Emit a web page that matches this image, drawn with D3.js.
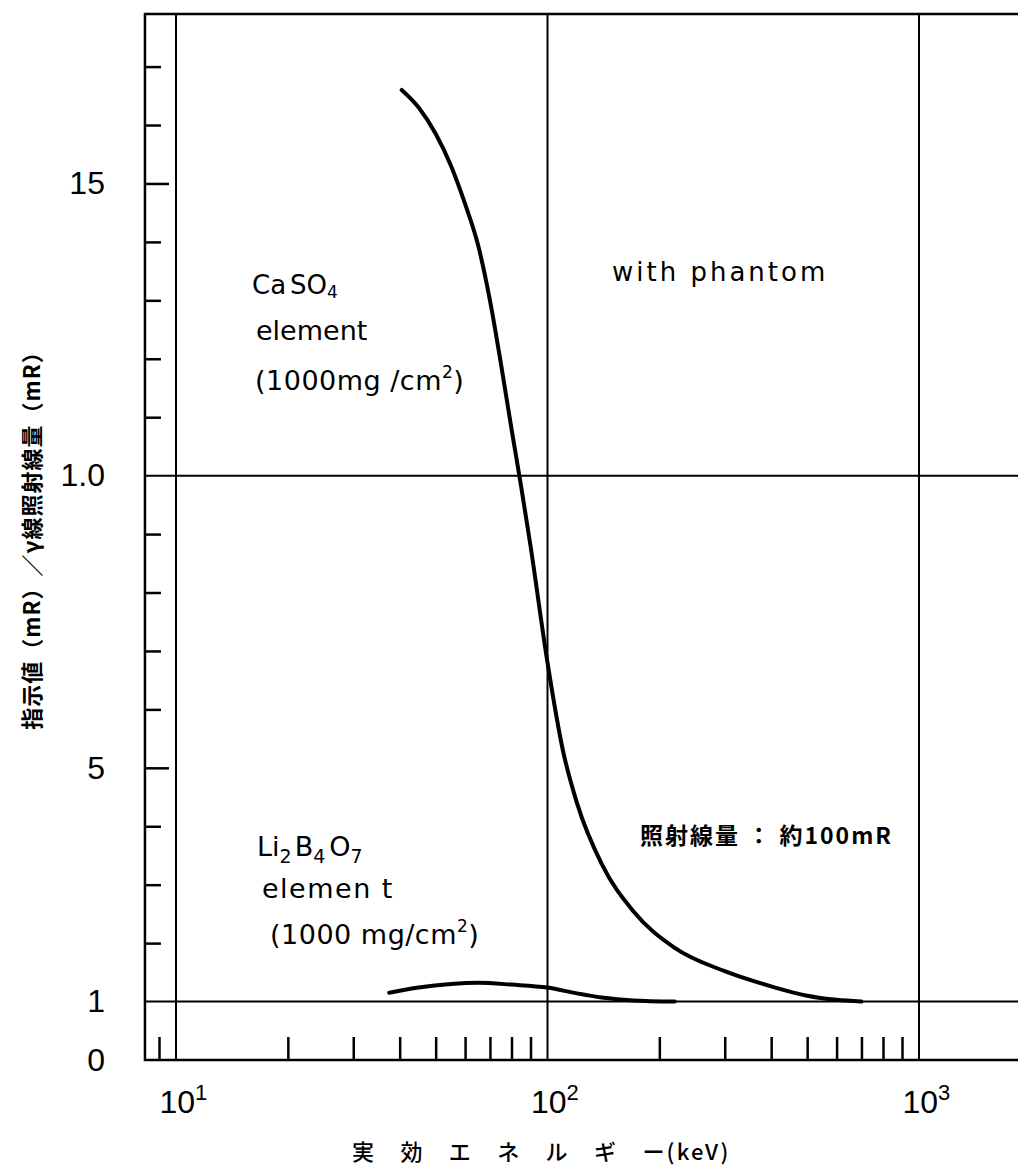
<!DOCTYPE html>
<html>
<head>
<meta charset="utf-8">
<script src="https://cdn.jsdelivr.net/npm/d3@7"></script>
<style>
  body { margin: 0; background: #fff; }
  text { fill: #000; }
</style>
</head>
<body>
<div class="container"></div>
<script>
// effective energy (keV) and reading / gamma exposure for each element
var casoEnergy = [40.5, 45, 50, 55, 60, 65, 70, 75, 80, 85, 90, 100, 110, 120, 140, 170, 220, 300, 400, 500, 600, 700];
var casoRatio  = [16.6, 16.3, 15.85, 15.3, 14.65, 13.95, 13.0, 11.9, 10.8, 9.8, 8.8, 6.8, 5.3, 4.4, 3.35, 2.55, 1.92, 1.52, 1.26, 1.1, 1.03, 1.0];

var liEnergy = [37.5, 45, 55, 65, 80, 100, 120, 140, 170, 220];
var liRatio  = [1.15, 1.24, 1.30, 1.32, 1.29, 1.24, 1.14, 1.07, 1.02, 1.0];

var yMinorTicks = [2, 3, 4, 6, 7, 8, 9, 11, 12, 13, 14, 16, 17];
var yMajorTicks = [5, 15];
var yLabelTicks = [0, 1, 5, 10, 15];
var yLabelText  = {0: '0', 1: '1', 5: '5', 10: '1.0', 15: '15'};
var yGrid = [1, 10];

var xMinorTicks = [9, 20, 30, 40, 50, 60, 70, 80, 90, 200, 300, 400, 500, 600, 700, 800, 900];
var xDecades = [10, 100, 1000];
var xExponent = {10: '1', 100: '2', 1000: '3'};

var width = 1018, height = 1176;

var svg = d3.select('.container').append('svg')
	.attr('width', width).attr('height', height);

var x = d3.scaleLog().domain([10, 1000]).range([176, 919]);
var y = d3.scaleLinear().domain([0, 17.9]).range([1060, 14]);

var xLeft = x(8.25), xRight = x(2300);

// frame
svg.append('path')
	.attr('d', 'M' + xRight + ',' + y(17.9) + 'H' + xLeft + 'V' + y(0) + 'H' + xRight)
	.attr('fill', 'none').attr('stroke', '#000').attr('stroke-width', 2.5);

// grid lines
svg.selectAll('.hgrid').data(yGrid).enter().append('line')
	.attr('x1', xLeft).attr('x2', xRight)
	.attr('y1', function(d){ return y(d); }).attr('y2', function(d){ return y(d); })
	.attr('stroke', '#000').attr('stroke-width', 2);

svg.selectAll('.vgrid').data(xDecades).enter().append('line')
	.attr('x1', function(d){ return x(d); }).attr('x2', function(d){ return x(d); })
	.attr('y1', y(17.9)).attr('y2', y(0))
	.attr('stroke', '#000').attr('stroke-width', 2);

// y axis: inward ticks
var yMinor = d3.axisRight(y).tickValues(yMinorTicks).tickSize(16).tickFormat('');
var yMajor = d3.axisRight(y).tickValues(yMajorTicks).tickSize(24).tickFormat('');
var yLab = d3.axisLeft(y).tickValues(yLabelTicks).tickSize(0).tickPadding(40)
	.tickFormat(function(d){ return yLabelText[d]; });

[yMinor, yMajor].forEach(function(ax){
	var g = svg.append('g').attr('transform', 'translate(' + xLeft + ',0)').call(ax);
	g.select('.domain').remove();
	g.selectAll('line').attr('stroke-width', 2.5);
});
var gyl = svg.append('g').attr('transform', 'translate(' + xLeft + ',0)').call(yLab);
gyl.select('.domain').remove();
gyl.selectAll('text')
	.attr('font-family', 'Liberation Sans, Arial, sans-serif')
	.attr('font-size', 32)
	.attr('fill', '#000');

// x axis: upward ticks
var xMinor = d3.axisTop(x).tickValues(xMinorTicks).tickSize(23).tickFormat('');
var gx = svg.append('g').attr('transform', 'translate(0,' + y(0) + ')').call(xMinor);
gx.select('.domain').remove();
gx.selectAll('line').attr('stroke-width', 2.5);

var xLab = d3.axisBottom(x).tickValues(xDecades).tickSize(0).tickPadding(30).tickFormat('');
var gxl = svg.append('g').attr('transform', 'translate(0,' + y(0) + ')').call(xLab);
gxl.select('.domain').remove();
gxl.selectAll('.tick text').each(function(d){
	var t = d3.select(this)
		.attr('font-family', 'Liberation Sans, Arial, sans-serif')
		.attr('font-size', 32)
		.attr('fill', '#000')
		.attr('text-anchor', 'start')
		.attr('x', -17)
		.attr('dy', '0.71em');
	t.append('tspan').text('10');
	t.append('tspan').attr('font-size', 22).attr('dy', -13).text(xExponent[d]);
});

// curves
var line = d3.line()
	.x(function(d){ return x(d[0]); })
	.y(function(d){ return y(d[1]); })
	.curve(d3.curveMonotoneX);

var series = [d3.zip(casoEnergy, casoRatio), d3.zip(liEnergy, liRatio)];
svg.selectAll('.curve').data(series).enter().append('path')
	.attr('class', 'curve')
	.attr('d', line)
	.attr('fill', 'none').attr('stroke', '#000').attr('stroke-width', 4)
	.attr('stroke-linecap', 'round');

// annotations
var latin = 'DejaVu Sans, sans-serif';
var cjk = 'Noto Sans CJK JP, sans-serif';

function label(px, py, size){
	return svg.append('text').attr('x', px).attr('y', py)
		.attr('font-family', latin).attr('font-size', size);
}

label(612, 281, 26).attr('letter-spacing', 3).text('with phantom');

var t1 = label(252, 294, 26);
t1.append('tspan').text('Ca');
t1.append('tspan').attr('dx', 4).text('SO');
t1.append('tspan').attr('font-size', 17).attr('dy', 4).text('4');
label(256, 340, 27).text('element');
var t2 = label(255, 390, 27).attr('letter-spacing', 0.5);
t2.append('tspan').text('(1000mg /cm');
t2.append('tspan').attr('font-size', 17).attr('dy', -12).text('2');
t2.append('tspan').attr('dy', 12).text(')');

var t3 = label(257, 856, 27);
t3.append('tspan').text('Li');
t3.append('tspan').attr('font-size', 19).attr('dy', 7).text('2');
t3.append('tspan').attr('dy', -7).attr('dx', 3).text('B');
t3.append('tspan').attr('font-size', 19).attr('dy', 7).text('4');
t3.append('tspan').attr('dy', -7).attr('dx', 4).text('O');
t3.append('tspan').attr('font-size', 19).attr('dy', 7).text('7');
label(262, 898, 27).attr('letter-spacing', 1.5).text('elemen t');
var t4 = label(270, 944, 27).attr('letter-spacing', 0.5);
t4.append('tspan').text('(1000 mg/cm');
t4.append('tspan').attr('font-size', 17).attr('dy', -12).text('2');
t4.append('tspan').attr('dy', 12).text(')');

svg.append('text').attr('x', 640).attr('y', 844)
	.attr('font-family', cjk).attr('font-weight', 'bold').attr('font-size', 23)
	.attr('letter-spacing', 2)
	.text('照射線量 ： 約100mR');

// axis titles
svg.append('text').attr('x', 352).attr('y', 1160)
	.attr('font-family', cjk).attr('font-weight', 500).attr('font-size', 22)
	.attr('letter-spacing', 2.2)
	.attr('xml:space', 'preserve')
	.text('実\u2003効\u2003エ\u2003ネ\u2003ル\u2003ギ\u2003ー(keV)');

svg.append('text')
	.attr('transform', 'translate(40,535) rotate(-90)')
	.attr('text-anchor', 'middle')
	.attr('font-family', cjk).attr('font-weight', 'bold').attr('font-size', 22)
	.attr('letter-spacing', 1)
	.text('指示値（mR）／γ線照射線量（mR）');
</script>
</body>
</html>
